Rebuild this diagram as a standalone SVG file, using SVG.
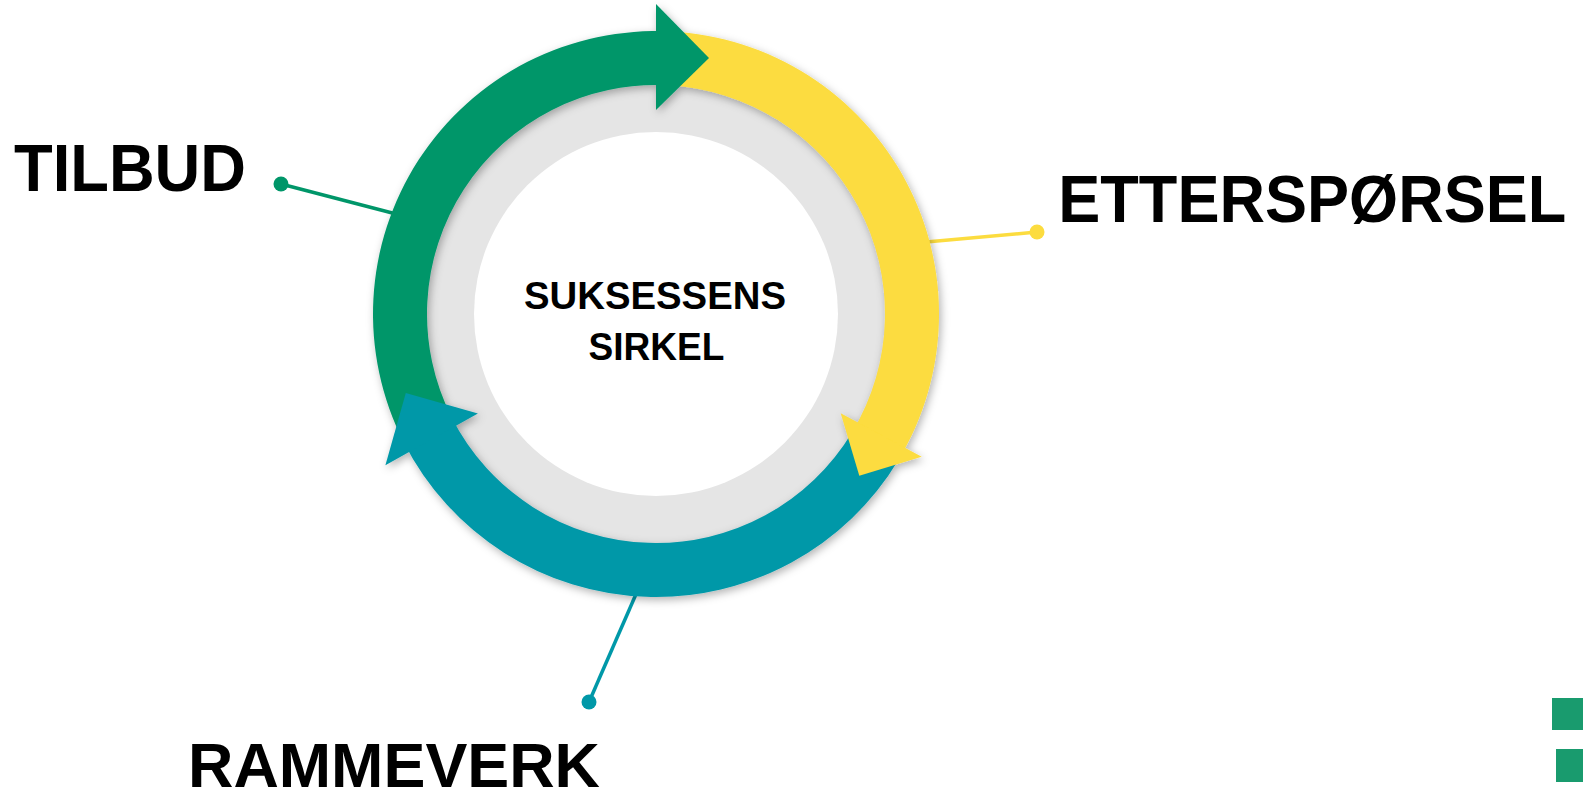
<svg xmlns="http://www.w3.org/2000/svg" width="1583" height="792" viewBox="0 0 1583 792">
  <style>
    .lbl { font-family: "Liberation Sans", Arial, sans-serif; font-weight: bold; fill: #000; }
    .big { font-size: 66px; }
    .mid { font-size: 38px; }
    .green { fill: #009669; }
    .yellow { fill: #FCDC3F; }
    .teal { fill: #0098A8; }
    .conn { stroke-width: 3.5; fill: none; }
  </style>
  <defs>
    <filter id="shadow" x="-20%" y="-20%" width="140%" height="140%">
      <feDropShadow dx="2" dy="3" stdDeviation="4" flood-color="#000" flood-opacity="0.3"/>
    </filter>
  </defs>
  <rect width="1583" height="792" fill="#fff"/>

  <g id="connectors">
    <line class="conn" x1="281" y1="184" x2="400" y2="215" stroke="#009669"/>
    <circle cx="281" cy="184" r="7.5" fill="#009669"/>
    <line class="conn" x1="1037" y1="232" x2="915" y2="243" stroke="#FCDC3F"/>
    <circle cx="1037" cy="232" r="7.5" fill="#FCDC3F"/>
    <line class="conn" x1="589" y1="702" x2="640" y2="585" stroke="#0098A8"/>
    <circle cx="589" cy="702" r="7.5" fill="#0098A8"/>
  </g>

  <g id="ring-center">
    <circle cx="656" cy="314" r="232" fill="#E5E5E5"/>
    <circle cx="656" cy="314" r="182" fill="#fff"/>
  </g>

  <g id="ring" filter="url(#shadow)">
    <path id="band-green" class="green" d="M 403.85 442.48 A 283 283 0 0 1 670.81 31.39 L 667.99 85.31 A 229 229 0 0 0 451.96 417.96 Z"/>
    <path id="band-yellow" class="yellow" d="M 670.81 31.39 A 283 283 0 0 1 898.58 459.76 L 852.29 431.94 A 229 229 0 0 0 667.99 85.31 Z"/>
    <path id="band-teal" class="teal" d="M 898.58 459.76 A 283 283 0 0 1 403.85 442.48 L 451.96 417.96 A 229 229 0 0 0 852.29 431.94 Z"/>
    <polygon id="head-green" class="green" points="656,4 709,58 656,110"/>
    <polygon id="head-yellow" class="yellow" points="840.7,413.3 921.7,456.7 859.3,475.7"/>
    <polygon id="head-teal" class="teal" points="385.4,465.2 405.8,393.1 477.9,413.5"/>
  </g>

  <g id="node-center">
    <text class="lbl mid" x="655" y="308.5" text-anchor="middle" textLength="262" lengthAdjust="spacingAndGlyphs">SUKSESSENS</text>
    <text class="lbl mid" x="656.5" y="360" text-anchor="middle" textLength="136" lengthAdjust="spacingAndGlyphs">SIRKEL</text>
  </g>

  <g id="node-tilbud">
    <text class="lbl big" x="14" y="191" textLength="232" lengthAdjust="spacingAndGlyphs">TILBUD</text>
  </g>
  <g id="node-ettersporsel">
    <text class="lbl big" x="1058.3" y="222" textLength="508" lengthAdjust="spacingAndGlyphs">ETTERSPØRSEL</text>
  </g>
  <g id="node-rammeverk">
    <text class="lbl" style="font-size:63.5px" x="188" y="787" textLength="412" lengthAdjust="spacingAndGlyphs">RAMMEVERK</text>
  </g>

  <g id="corner-marks">
    <rect x="1552" y="698" width="31" height="32" fill="#199B6E"/>
    <rect x="1556" y="749" width="27" height="33" fill="#199B6E"/>
  </g>
</svg>
